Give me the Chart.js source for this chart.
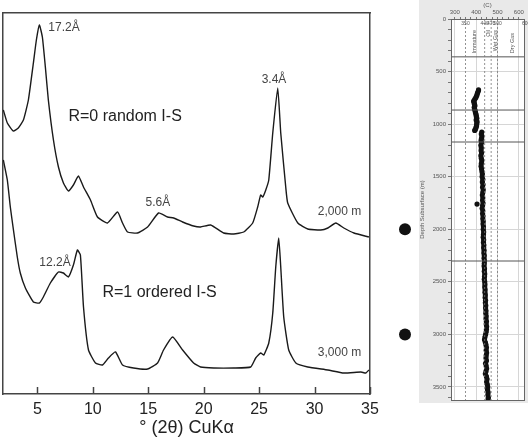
<!DOCTYPE html>
<html>
<head>
<meta charset="utf-8">
<script src="https://cdn.jsdelivr.net/npm/chart.js@4.4.1/dist/chart.umd.min.js"></script>
<style>
html, body { margin: 0; padding: 0; background: #fff; }
body { width: 528px; height: 437px; position: relative; overflow: hidden; }
#xrd { position: absolute; left: 0; top: 0; }
#tmax { position: absolute; left: 388px; top: 0; }
</style>
</head>
<body>
<canvas id="xrd" width="385" height="437"></canvas>
<canvas id="tmax" width="140" height="437"></canvas>
<script>
// XRD patterns (2000 m, 3000 m) + Tmax depth profile

// --- left panel: diffractograms (x = degrees 2θ, y = relative intensity)
const twoTheta2000 = [1.93, 2.29, 2.83, 3.28, 3.74, 4.19, 4.64, 4.91, 5.18, 5.45, 5.72, 5.99, 6.45, 6.90, 7.35, 7.80, 8.25, 8.70, 9.16, 9.79, 10.42, 11.32, 12.23, 12.68, 13.13, 14.03, 14.94, 15.93, 16.74, 17.29, 18.10, 19.09, 19.72, 20.63, 21.80, 22.71, 23.61, 24.42, 24.87, 25.14, 25.33, 25.60, 25.87, 26.23, 26.68, 26.95, 27.40, 27.58, 28.49, 29.39, 30.56, 31.20, 31.92, 32.64, 33.55, 34.90];
const counts2000 = [284, 271, 263, 266, 274, 294, 331, 354, 369, 357, 327, 294, 254, 227, 211, 203, 209, 218, 207, 194, 177, 171, 182, 171, 162, 161, 167, 181, 177, 176, 172, 168, 167, 169, 161, 160, 162, 171, 187, 199, 197, 204, 214, 261, 306, 261, 207, 191, 171, 165, 164, 166, 171, 166, 161, 157];

const twoTheta3000 = [1.93, 2.29, 2.56, 2.83, 3.19, 3.46, 3.92, 4.64, 5.18, 5.54, 6.17, 6.90, 7.35, 7.80, 8.25, 8.61, 8.88, 9.16, 9.61, 10.24, 10.87, 11.41, 12.05, 12.68, 13.67, 14.94, 15.84, 16.38, 17.20, 18.10, 19.09, 19.72, 20.90, 22.71, 24.24, 24.69, 25.14, 25.42, 25.87, 26.23, 26.50, 26.77, 26.95, 27.22, 27.67, 28.31, 29.39, 31.20, 32.64, 34.18, 34.63, 34.90];
const counts3000 = [234, 214, 187, 165, 137, 121, 106, 92, 91, 97, 111, 122, 121, 117, 129, 144, 139, 87, 44, 31, 29, 36, 42, 29, 26, 25, 31, 44, 57, 44, 31, 27, 26, 26, 27, 36, 41, 39, 51, 81, 127, 156, 127, 77, 44, 31, 27, 24, 21, 22, 21, 24];

const xrdNotes = ["17.2Å", "R=0 random I-S", "5.6Å", "3.4Å", "2,000 m", "12.2Å", "R=1 ordered I-S", "3,000 m"];
const xrdNoteAt = [[5.99, 366], [7.80, 277], [14.76, 191], [25.23, 314], [30.29, 182], [5.18, 131], [10.87, 101], [30.29, 41]];
const xrdNoteSize = [12, 16, 12, 12, 12, 12, 16, 12];

// --- right panel: Tmax (C) vs depth (m)
const tmaxDepth = [675, 690, 705, 720, 735, 750, 765, 780, 795, 810, 825, 840, 855, 870, 885, 900, 915, 930, 945, 960, 975, 990, 1005, 1020, 1035, 1050, 1060,
  1075, 1095, 1115, 1135, 1155, 1175, 1200, 1225, 1250, 1275, 1300, 1325, 1350, 1375, 1400, 1425, 1450, 1475, 1500, 1525, 1550, 1575, 1600, 1625, 1650, 1675, 1700, 1725, 1750, 1760, 1775, 1800, 1825, 1850, 1875, 1900, 1925, 1950, 1975, 2000,
  2025, 2050, 2075, 2100, 2125, 2150, 2175, 2200, 2225, 2250, 2275, 2300, 2325, 2350, 2375, 2400, 2425, 2450, 2475, 2500, 2525, 2550, 2575, 2600, 2625, 2650, 2675, 2700, 2725, 2750, 2775, 2800, 2825, 2850, 2875, 2900, 2925, 2950, 2975, 3000,
  3025, 3050, 3075, 3100, 3125, 3150, 3175, 3200, 3225, 3250, 3275, 3300, 3325, 3350, 3375, 3400, 3425, 3450, 3475, 3500, 3525, 3550, 3575, 3600, 3615];
const tmaxValue = [411, 409, 406, 404, 401, 398, 393, 388, 390, 392, 394, 391, 392, 395, 396, 398, 400, 401, 403, 400, 404, 403, 402, 401, 399, 396, 393,
  426, 424, 427, 425, 423, 425, 422, 424, 423, 425, 422, 424, 426, 424, 423, 425, 427, 429, 428, 431, 429, 432, 430, 433, 431, 429, 431, 430, 432, 404, 430, 428, 431, 430, 432, 431, 433, 432, 434, 433,
  435, 434, 433, 435, 434, 436, 435, 437, 436, 438, 437, 439, 438, 437, 439, 438, 440, 439, 438, 440, 441, 440, 442, 441, 443, 442, 444, 443, 445, 444, 446, 445, 447, 446, 448, 447, 449, 448, 447, 444,
  441, 439, 443, 446, 448, 447, 449, 447, 446, 448, 444, 447, 449, 446, 443, 448, 451, 449, 452, 454, 453, 456, 455, 457, 456];

const sampleDepths = [2000, 3000];      // the two XRD samples
const windowCutoffs = [350, 440, 470, 500];
const boundaryDepths = [360, 866, 1170, 2302];
const zoneNames = ["Immature", "Oil", "Wet Gas", "Dry Gas"];
const zoneAt = [393, 458, 490, 571];

const TMIN = 282, TMAX = 624, DMAX = 3624;

const pairs = (xs, ys) => xs.map((x, i) => ({ x, y: ys[i] }));

// tick marks pointing into the plot, drawn from the x scale
const innerTicks = {
    id: "innerTicks",
    afterDraw(chart) {
        const { ctx, chartArea } = chart;
        const sx = chart.scales.x;
        ctx.save();
        ctx.strokeStyle = "#444";
        ctx.lineWidth = 1.5;
        sx.ticks.forEach(t => {
            const px = Math.round(sx.getPixelForValue(t.value)) + 0.5;
            ctx.beginPath();
            ctx.moveTo(px, chartArea.bottom);
            ctx.lineTo(px, chartArea.bottom - 7);
            ctx.stroke();
        });
        ctx.restore();
    }
};

const xrdText = {
    id: "xrdText",
    afterDatasetsDraw(chart) {
        const { ctx } = chart;
        const sx = chart.scales.x, sy = chart.scales.y;
        ctx.save();
        ctx.textBaseline = "middle";
        ctx.textAlign = "left";
        xrdNotes.forEach((t, i) => {
            const big = xrdNoteSize[i] > 12;
            ctx.fillStyle = big ? "#222" : "#444";
            ctx.font = `${xrdNoteSize[i]}px "Liberation Sans", Arial, sans-serif`;
            ctx.fillText(t, sx.getPixelForValue(xrdNoteAt[i][0]), sy.getPixelForValue(xrdNoteAt[i][1]));
        });
        ctx.restore();
    }
};

const frameColor = "#444";

new Chart(document.getElementById("xrd"), {
    type: "line",
    data: {
        datasets: [
            { data: pairs(twoTheta2000, counts2000), borderColor: "#1a1a1a", borderWidth: 1.4, pointRadius: 0, tension: 0.15, fill: false },
            { data: pairs(twoTheta3000, counts3000), borderColor: "#1a1a1a", borderWidth: 1.4, pointRadius: 0, tension: 0.15, fill: false },
        ]
    },
    options: {
        responsive: false,
        animation: false,
        devicePixelRatio: 1,
        parsing: false,
        layout: { padding: 0 },
        plugins: { legend: { display: false }, tooltip: { enabled: false } },
        scales: {
            x: {
                type: "linear", min: 1.9, max: 35,
                ticks: { stepSize: 5, includeBounds: false, padding: 6, color: "#222",
                         font: { family: "Liberation Sans", size: 16 } },
                grid: { display: false, drawTicks: false },
                border: { display: true, color: frameColor, width: 1.5 },
                title: { display: true, text: "° (2θ) CuKα", color: "#222", padding: 0,
                         font: { family: "Liberation Sans", size: 18, lineHeight: 1 } },
                afterFit: s => { s.height = 43; },
            },
            x2: {
                position: "top", min: 0, max: 1,
                ticks: { display: false }, grid: { display: false, drawTicks: false },
                border: { display: true, color: frameColor, width: 1.5 },
                afterFit: s => { s.height = 13; },
            },
            y: {
                min: 0, max: 381,
                ticks: { display: false }, grid: { display: false, drawTicks: false },
                border: { display: true, color: frameColor, width: 1.5 },
                afterFit: s => { s.width = 3; },
            },
            y2: {
                position: "right", min: 0, max: 1,
                ticks: { display: false }, grid: { display: false, drawTicks: false },
                border: { display: true, color: frameColor, width: 1.5 },
                afterFit: s => { s.width = 15; },
            },
        }
    },
    plugins: [innerTicks, xrdText]
});

// --- right panel
const panelBg = {
    id: "panelBg",
    beforeDraw(chart) {
        const { ctx, chartArea, width } = chart;
        ctx.save();
        ctx.fillStyle = "#e9e9e9";
        ctx.fillRect(chartArea.left - 32, 0, width, chartArea.bottom + 3);
        ctx.fillStyle = "#fff";
        ctx.fillRect(chartArea.left, chartArea.top, chartArea.right - chartArea.left, chartArea.bottom - chartArea.top);
        ctx.restore();
    },
    afterDraw(chart) {
        const { ctx, chartArea } = chart;
        const sx = chart.scales.x, sy = chart.scales.y;
        ctx.save();
        ctx.strokeStyle = "#666";
        ctx.lineWidth = 1;
        ctx.strokeRect(chartArea.left + 0.5, chartArea.top + 0.5, chartArea.right - chartArea.left, chartArea.bottom - chartArea.top);
        ctx.fillStyle = "#555";
        ctx.font = '5px "Liberation Sans", Arial, sans-serif';
        ctx.textAlign = "center";
        ctx.textBaseline = "middle";
        windowCutoffs.forEach(c => ctx.fillText(String(c), sx.getPixelForValue(c), chartArea.top + 5));
        ctx.textAlign = "left";
        ctx.fillText("600", sx.getPixelForValue(600) + 3, chartArea.top + 5);
        ctx.font = '5.5px "Liberation Sans", Arial, sans-serif';
        ctx.textAlign = "right";
        zoneNames.forEach((z, i) => {
            ctx.save();
            ctx.translate(sx.getPixelForValue(zoneAt[i]), chartArea.top + (i === 3 ? 14 : 11));
            ctx.rotate(-Math.PI / 2);
            ctx.fillText(z, 0, 0);
            ctx.restore();
        });
        // sample markers left of the depth axis, placed on the depth scale
        ctx.fillStyle = "#111";
        sampleDepths.forEach(d => {
            ctx.beginPath();
            ctx.arc(chartArea.left - 46, sy.getPixelForValue(d), 6, 0, Math.PI * 2);
            ctx.fill();
        });
        ctx.restore();
    }
};

const cutoffSets = windowCutoffs.map(c => ({
    type: "line", data: [{ x: c, y: 0 }, { x: c, y: DMAX }],
    borderColor: "#777", borderWidth: 0.8, borderDash: [2, 2], pointRadius: 0
}));
const boundarySets = boundaryDepths.map(d => ({
    type: "line", data: [{ x: TMIN, y: d }, { x: TMAX, y: d }],
    borderColor: "#555", borderWidth: 1, pointRadius: 0
}));

const tinyFont = { family: "Liberation Sans", size: 6 };

new Chart(document.getElementById("tmax"), {
    type: "scatter",
    data: {
        datasets: [
            ...cutoffSets,
            ...boundarySets,
            { data: pairs(tmaxValue, tmaxDepth), backgroundColor: "#111", borderWidth: 0, pointRadius: 2.6 },
        ]
    },
    options: {
        responsive: false,
        animation: false,
        devicePixelRatio: 1,
        layout: { padding: { left: 0, right: 0, top: 0, bottom: 37 } },
        plugins: { legend: { display: false }, tooltip: { enabled: false } },
        scales: {
            x: {
                type: "linear", position: "top", min: TMIN, max: TMAX,
                ticks: { stepSize: 25, includeBounds: false, autoSkip: false, maxRotation: 0, padding: 1,
                         color: "#555", font: tinyFont, callback: v => v % 100 === 0 ? v : "" },
                grid: { color: c => c.tick && c.tick.value % 100 === 0 ? "#d6d6d6" : "rgba(0,0,0,0)",
                        tickColor: "#777", tickLength: 2 },
                border: { display: true, color: "#666" },
                title: { display: true, text: "(C)", color: "#555", font: tinyFont, padding: { top: 2, bottom: 0 } },
                afterFit: s => { s.height = 19; },
            },
            y: {
                type: "linear", reverse: true, min: 0, max: DMAX,
                ticks: { stepSize: 100, includeBounds: false, autoSkip: false, padding: 2,
                         color: "#555", font: tinyFont, callback: v => v % 500 === 0 ? v : "" },
                grid: { color: c => c.tick && c.tick.value % 500 === 0 ? "#d6d6d6" : "rgba(0,0,0,0)",
                        tickColor: "#777", tickLength: 3 },
                border: { display: true, color: "#666" },
                title: { display: true, text: "Depth Subsurface (m)", color: "#555", font: tinyFont,
                         padding: { top: 31, bottom: 0 } },
                afterFit: s => { s.width = 63; },
            },
        }
    },
    plugins: [panelBg]
});
</script>
</body>
</html>
